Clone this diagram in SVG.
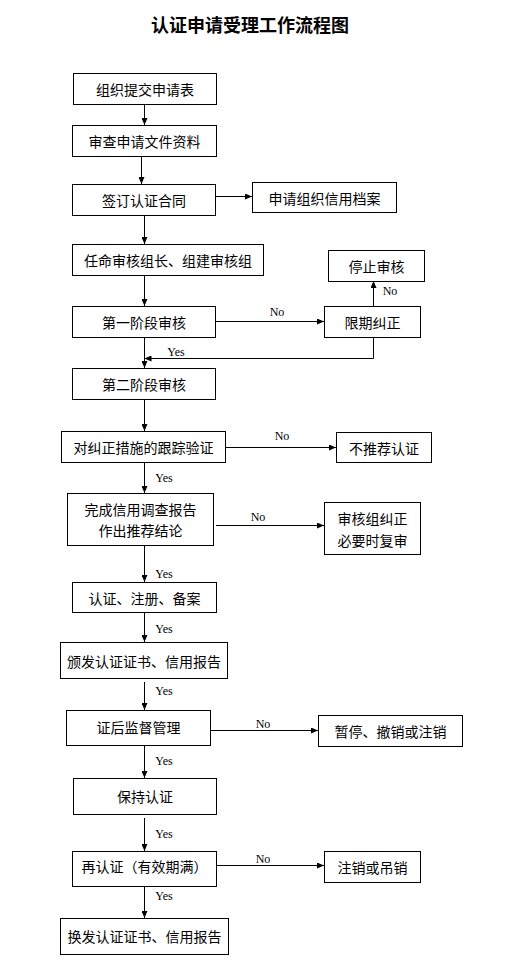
<svg xmlns="http://www.w3.org/2000/svg" width="517" height="973" viewBox="0 0 517 973">
<style>
.box{fill:#fff;stroke:#000;stroke-width:1}
.t{font-family:"Noto Sans CJK SC","Noto Sans CJK JP",sans-serif;font-size:14px;fill:#000;text-anchor:middle;dominant-baseline:central}
.l{font-family:"Liberation Serif",serif;font-size:12px;fill:#000;text-anchor:middle;dominant-baseline:central}
.c{fill:none;stroke:#000;stroke-width:1}
</style>
<defs>
<marker id="ah" markerWidth="7" markerHeight="6" refX="7" refY="3" orient="auto" markerUnits="userSpaceOnUse">
<path d="M0,0 L7,3 L0,6 Z" fill="#000"/>
</marker>
</defs>
<rect width="517" height="973" fill="#fff"/>
<text x="250" y="24" style="font-family:'Noto Sans CJK SC',sans-serif;font-size:18px;font-weight:bold;text-anchor:middle;dominant-baseline:central">认证申请受理工作流程图</text>

<g id="connectors">
<path class="c" d="M144.5,104 V125" marker-end="url(#ah)"/>
<path class="c" d="M141.5,156 V184" marker-end="url(#ah)"/>
<path class="c" d="M216,196.5 H252" marker-end="url(#ah)"/>
<path class="c" d="M144.5,215 V244" marker-end="url(#ah)"/>
<path class="c" d="M144.5,275 V306" marker-end="url(#ah)"/>
<path class="c" d="M216,321.5 H324" marker-end="url(#ah)"/>
<path class="c" d="M373.5,306 V281" marker-end="url(#ah)"/>
<path class="c" d="M373.5,337 V358.5 H144.5" marker-end="url(#ah)"/>
<path class="c" d="M144.5,337 V368" marker-end="url(#ah)"/>
<path class="c" d="M144.5,399 V431" marker-end="url(#ah)"/>
<path class="c" d="M226,447.5 H336" marker-end="url(#ah)"/>
<path class="c" d="M144.5,462 V493" marker-end="url(#ah)"/>
<path class="c" d="M216,525.5 H324" marker-end="url(#ah)"/>
<path class="c" d="M144.5,545 V582" marker-end="url(#ah)"/>
<path class="c" d="M144.5,612 V642" marker-end="url(#ah)"/>
<path class="c" d="M144.5,682 V710" marker-end="url(#ah)"/>
<path class="c" d="M211,730.5 H318" marker-end="url(#ah)"/>
<path class="c" d="M144.5,745 V778" marker-end="url(#ah)"/>
<path class="c" d="M144.5,818 V851" marker-end="url(#ah)"/>
<path class="c" d="M217,865.5 H324" marker-end="url(#ah)"/>
<path class="c" d="M144.5,886 V918" marker-end="url(#ah)"/>
<text class="l" x="277" y="312">No</text>
<text class="l" x="390" y="291">No</text>
<text class="l" x="176" y="352">Yes</text>
<text class="l" x="282" y="436">No</text>
<text class="l" x="164" y="478">Yes</text>
<text class="l" x="258" y="517">No</text>
<text class="l" x="164" y="574">Yes</text>
<text class="l" x="164" y="629">Yes</text>
<text class="l" x="164" y="691">Yes</text>
<text class="l" x="263" y="724">No</text>
<text class="l" x="164" y="761">Yes</text>
<text class="l" x="164" y="834">Yes</text>
<text class="l" x="263" y="859">No</text>
<text class="l" x="164" y="896">Yes</text>
</g>

<g id="n1"><rect class="box" x="73.5" y="73.5" width="143" height="31"/><text class="t" x="145" y="89">组织提交申请表</text></g>
<g id="n2"><rect class="box" x="72.5" y="125.5" width="144" height="31"/><text class="t" x="144.5" y="141">审查申请文件资料</text></g>
<g id="n3"><rect class="box" x="72.5" y="184.5" width="143" height="31"/><text class="t" x="144" y="200">签订认证合同</text></g>
<g id="n3b"><rect class="box" x="252.5" y="182.5" width="144" height="30"/><text class="t" x="324.5" y="197.5">申请组织信用档案</text></g>
<g id="n4"><rect class="box" x="72.5" y="244.5" width="191" height="31"/><text class="t" x="168" y="260">任命审核组长、组建审核组</text></g>
<g id="n5"><rect class="box" x="72.5" y="306.5" width="143" height="31"/><text class="t" x="144" y="322">第一阶段审核</text></g>
<g id="n5b"><rect class="box" x="324.5" y="306.5" width="96" height="31"/><text class="t" x="372.5" y="322">限期纠正</text></g>
<g id="n5c"><rect class="box" x="328.5" y="250.5" width="96" height="31"/><text class="t" x="376.5" y="266">停止审核</text></g>
<g id="n6"><rect class="box" x="72.5" y="368.5" width="143" height="31"/><text class="t" x="144" y="384">第二阶段审核</text></g>
<g id="n7"><rect class="box" x="61.5" y="431.5" width="164" height="31"/><text class="t" x="143.5" y="447">对纠正措施的跟踪验证</text></g>
<g id="n7b"><rect class="box" x="336.5" y="432.5" width="95" height="30"/><text class="t" x="384" y="447.5">不推荐认证</text></g>
<g id="n8"><rect class="box" x="67.5" y="493.5" width="146" height="52"/><text class="t" x="140.5" y="508.5">完成信用调查报告</text><text class="t" x="140.5" y="529.5">作出推荐结论</text></g>
<g id="n8b"><rect class="box" x="324.5" y="502.5" width="96" height="52"/><text class="t" x="372.5" y="518">审核组纠正</text><text class="t" x="372.5" y="540">必要时复审</text></g>
<g id="n9"><rect class="box" x="72.5" y="582.5" width="144" height="30"/><text class="t" x="144.5" y="597.5">认证、注册、备案</text></g>
<g id="n10"><rect class="box" x="60.5" y="642.5" width="167" height="36"/><text class="t" x="144" y="660.5">颁发认证证书、信用报告</text></g>
<g id="n11"><rect class="box" x="66.5" y="710.5" width="144" height="35"/><text class="t" x="138.5" y="727">证后监督管理</text></g>
<g id="n11b"><rect class="box" x="318.5" y="715.5" width="144" height="31"/><text class="t" x="390.5" y="731">暂停、撤销或注销</text></g>
<g id="n12"><rect class="box" x="73.5" y="778.5" width="143" height="36"/><text class="t" x="145" y="796">保持认证</text></g>
<g id="n13"><rect class="box" x="72.5" y="851.5" width="144" height="35"/><text class="t" x="144.5" y="866">再认证（有效期满）</text></g>
<g id="n13b"><rect class="box" x="324.5" y="851.5" width="96" height="31"/><text class="t" x="372.5" y="867">注销或吊销</text></g>
<g id="n14"><rect class="box" x="60.5" y="918.5" width="168" height="36"/><text class="t" x="144.5" y="936">换发认证证书、信用报告</text></g>
</svg>
